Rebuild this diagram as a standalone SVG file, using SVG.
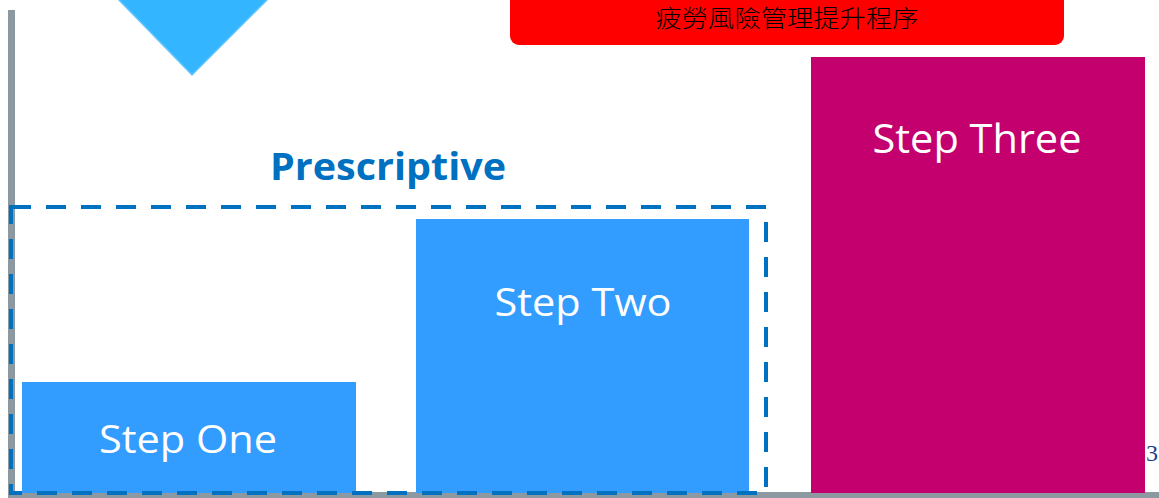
<svg xmlns="http://www.w3.org/2000/svg" width="1159" height="498" viewBox="0 0 1159 498">
<style>
.step{fill:#339CFF;}
.lbl{font-family:"Open Sans","Liberation Sans",sans-serif;fill:#ffffff;text-anchor:middle;}
.axis{fill:#8C99A0;}
</style>
<rect width="1159" height="498" fill="#ffffff"/>
<g id="axes">
<rect class="axis" x="8" y="10" width="7" height="488"/>
<rect class="axis" x="8" y="492" width="1151" height="6"/>
</g>
<g id="arrow">
<polygon points="117,-2 158,-2 158,-10 228,-10 228,-2 269,-2 192,75" fill="#33B5FF" stroke="#66C6FF" stroke-width="1.5"/>
</g>
<g id="title">
<rect x="510" y="-10" width="554" height="55" rx="9" fill="#FF0000"/>
<text x="787" y="27" font-family="Noto Sans CJK TC, sans-serif" font-weight="300" font-size="24" textLength="263" lengthAdjust="spacingAndGlyphs" text-anchor="middle" fill="#000000">疲勞風險管理提升程序</text>
</g>
<g id="step-three">
<rect x="811" y="57" width="334" height="436" fill="#C4006F"/>
<text class="lbl" x="977" y="153" font-size="40" textLength="209" lengthAdjust="spacingAndGlyphs">Step Three</text>
</g>
<g id="step-one">
<rect class="step" x="22" y="382" width="334" height="111"/>
<text class="lbl" x="188" y="453" font-size="38" textLength="178" lengthAdjust="spacingAndGlyphs">Step One</text>
</g>
<g id="step-two">
<rect class="step" x="416" y="219" width="333" height="274"/>
<text class="lbl" x="583" y="316" font-size="38" textLength="177" lengthAdjust="spacingAndGlyphs">Step Two</text>
</g>
<g id="prescriptive">
<rect x="11" y="207" width="755" height="286" fill="none" stroke="#0070C0" stroke-width="4" stroke-dasharray="20 15"/>
<text x="388" y="180" font-family="Open Sans, Liberation Sans, sans-serif" font-weight="bold" font-size="37" textLength="236" lengthAdjust="spacingAndGlyphs" text-anchor="middle" fill="#0070C0">Prescriptive</text>
</g>
<text x="1146" y="461" font-family="Liberation Serif, serif" font-size="24" fill="#1F3F8F">3</text>
</svg>
